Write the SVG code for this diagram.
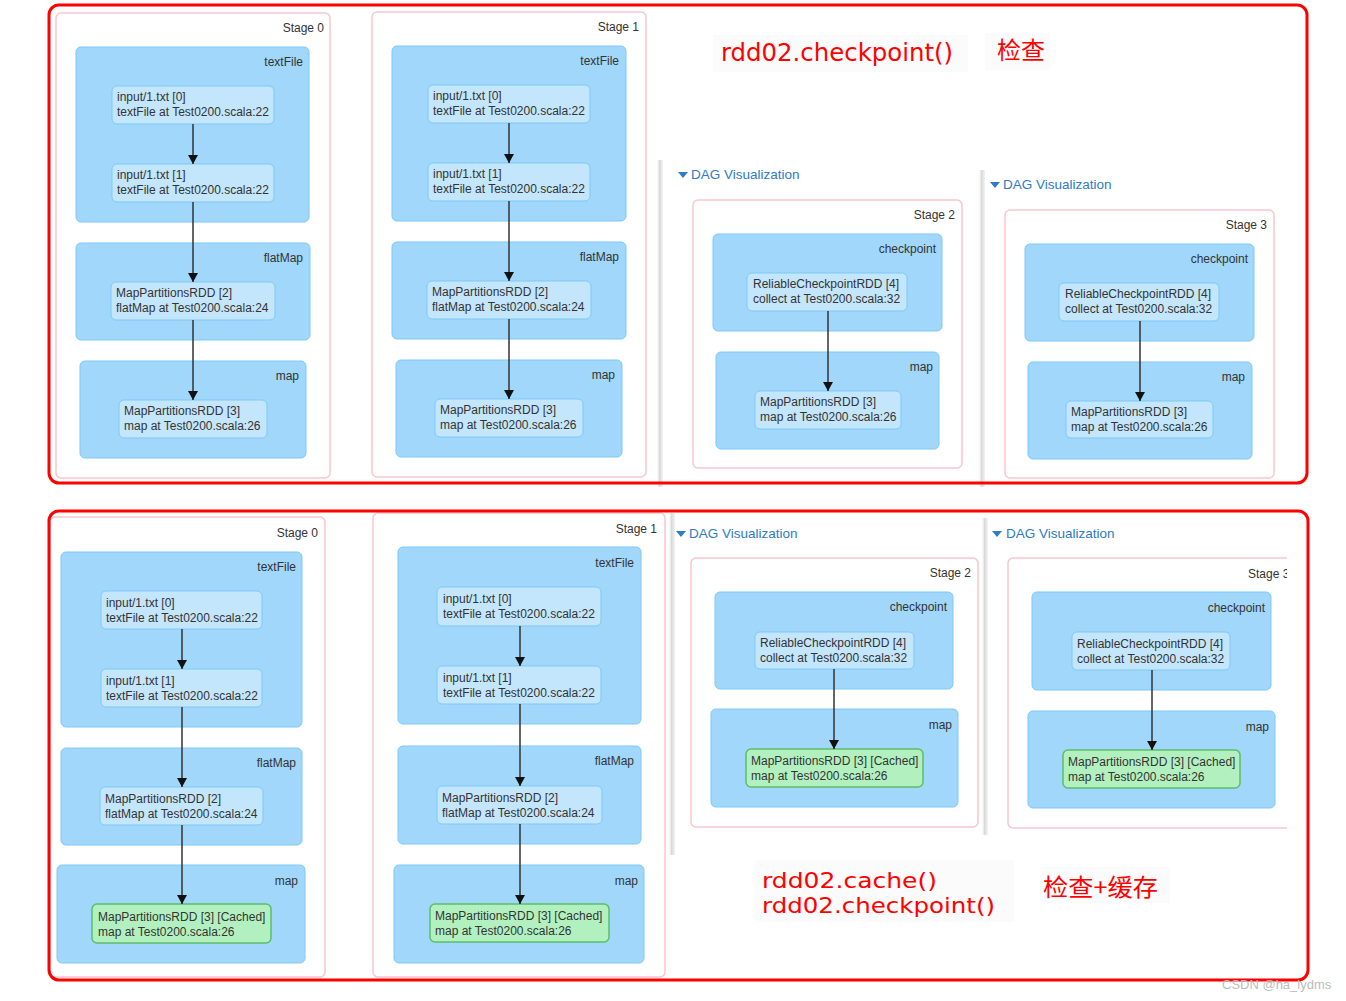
<svg xmlns="http://www.w3.org/2000/svg" width="1346" height="1001" viewBox="0 0 1346 1001">
<style>
.stage{fill:#fff;stroke:#F8C6D0;stroke-width:1.5}
.cl{fill:#A0D7FA;stroke:#7DC9F7;stroke-width:1}
.nd{fill:#C3E6FC;stroke:#7DC9F7;stroke-width:1}
.cached{fill:#B2F1BF;stroke:#5BBF69;stroke-width:1.5}
.lbl{font-family:"Liberation Sans",Arial,sans-serif;font-size:12px;fill:#333;text-anchor:end}
.nt{font-family:"Liberation Sans",Arial,sans-serif;font-size:12px;fill:#333}
.dag{font-family:"Liberation Sans",Arial,sans-serif;font-size:13.5px;fill:#2F7BC4}
.tri{fill:#2F7BC4}
.edge{stroke:#333;stroke-width:1.5;fill:none;marker-end:url(#ah)}
.frame{fill:none;stroke:#FF0000;stroke-width:3}
.red{font-family:"DejaVu Sans","Liberation Sans",sans-serif;font-size:22px;fill:#FF0000}
.redcjk{font-family:"Noto Sans CJK SC",sans-serif;font-size:24px;fill:#FF0000}
.shadow{fill:url(#sh)}
.faint{fill:#FBFBFB}
</style>
<defs>
<marker id="ah" markerUnits="userSpaceOnUse" markerWidth="10" markerHeight="10" refX="9" refY="5" orient="auto">
<path d="M0,0 L9,5 L0,10 z" fill="#111"/>
</marker>
<linearGradient id="sh" x1="0" y1="0" x2="1" y2="0">
<stop offset="0" stop-color="#ffffff" stop-opacity="0"/>
<stop offset="0.5" stop-color="#d9d9d9"/>
<stop offset="1" stop-color="#f4f4f4"/>
</linearGradient>
<clipPath id="clip3"><rect x="0" y="0" width="1287" height="1001"/></clipPath>
</defs>
<rect x="0" y="0" width="1346" height="1001" fill="#fff"/>

<!-- faint backgrounds behind annotations -->
<rect class="faint" x="713" y="35" width="255" height="37"/>
<rect class="faint" x="985" y="33" width="65" height="37"/>
<rect class="faint" x="755" y="860" width="259" height="62"/>
<rect class="faint" x="1040" y="867" width="130" height="36"/>

<!-- panel shadows -->
<rect class="shadow" x="656" y="160" width="7" height="327"/>
<rect class="shadow" x="978" y="170" width="7" height="317"/>
<rect class="shadow" x="668" y="513" width="7" height="342"/>
<rect class="shadow" x="981" y="518" width="7" height="317"/>

<!-- ===== TOP: Stage 0 ===== -->
<g id="top-stage0">
<rect class="stage" x="56" y="13" width="274" height="465" rx="5"/>
<text class="lbl" x="324" y="32">Stage 0</text>
</g>
<g id="top-s0-textFile"><rect class="cl" x="76" y="47" width="233" height="175" rx="5"/><text class="lbl" x="303" y="66">textFile</text></g>
<g id="top-s0-flatMap"><rect class="cl" x="76" y="243" width="234" height="97" rx="5"/><text class="lbl" x="303" y="262">flatMap</text></g>
<g id="top-s0-map"><rect class="cl" x="80" y="361" width="226" height="97" rx="5"/><text class="lbl" x="299" y="380">map</text></g>
<g id="top-s0-n0"><rect class="nd" x="112" y="86" width="162" height="38" rx="5"/><text class="nt" x="117" y="101">input/1.txt [0]</text><text class="nt" x="117" y="115.5">textFile at Test0200.scala:22</text></g>
<g id="top-s0-n1"><rect class="nd" x="112" y="164" width="162" height="38" rx="5"/><text class="nt" x="117" y="179">input/1.txt [1]</text><text class="nt" x="117" y="193.5">textFile at Test0200.scala:22</text></g>
<g id="top-s0-n2"><rect class="nd" x="111" y="282" width="164" height="38" rx="5"/><text class="nt" x="116" y="297">MapPartitionsRDD [2]</text><text class="nt" x="116" y="311.5">flatMap at Test0200.scala:24</text></g>
<g id="top-s0-n3"><rect class="nd" x="119" y="400" width="148" height="38" rx="5"/><text class="nt" x="124" y="415">MapPartitionsRDD [3]</text><text class="nt" x="124" y="429.5">map at Test0200.scala:26</text></g>

<!-- ===== TOP: Stage 1 ===== -->
<g id="top-stage1">
<rect class="stage" x="372" y="12" width="274" height="465" rx="5"/>
<text class="lbl" x="639" y="31">Stage 1</text>
</g>
<g id="top-s1-textFile"><rect class="cl" x="392" y="46" width="234" height="175" rx="5"/><text class="lbl" x="619" y="65">textFile</text></g>
<g id="top-s1-flatMap"><rect class="cl" x="392" y="242" width="234" height="97" rx="5"/><text class="lbl" x="619" y="261">flatMap</text></g>
<g id="top-s1-map"><rect class="cl" x="396" y="360" width="226" height="97" rx="5"/><text class="lbl" x="615" y="379">map</text></g>
<g id="top-s1-n0"><rect class="nd" x="428" y="85" width="162" height="38" rx="5"/><text class="nt" x="433" y="100">input/1.txt [0]</text><text class="nt" x="433" y="114.5">textFile at Test0200.scala:22</text></g>
<g id="top-s1-n1"><rect class="nd" x="428" y="163" width="162" height="38" rx="5"/><text class="nt" x="433" y="178">input/1.txt [1]</text><text class="nt" x="433" y="192.5">textFile at Test0200.scala:22</text></g>
<g id="top-s1-n2"><rect class="nd" x="427" y="281" width="164" height="38" rx="5"/><text class="nt" x="432" y="296">MapPartitionsRDD [2]</text><text class="nt" x="432" y="310.5">flatMap at Test0200.scala:24</text></g>
<g id="top-s1-n3"><rect class="nd" x="435" y="399" width="148" height="38" rx="5"/><text class="nt" x="440" y="414">MapPartitionsRDD [3]</text><text class="nt" x="440" y="428.5">map at Test0200.scala:26</text></g>

<!-- ===== TOP: Stage 2 ===== -->
<g id="top-dag2"><path class="tri" d="M678,172 L688,172 L683,178 z"/><text class="dag" x="691" y="179">DAG Visualization</text></g>
<g id="top-stage2">
<rect class="stage" x="693" y="200" width="269" height="268" rx="5"/>
<text class="lbl" x="955" y="219">Stage 2</text>
</g>
<g id="top-s2-checkpoint"><rect class="cl" x="713" y="234" width="229" height="97" rx="5"/><text class="lbl" x="936" y="253">checkpoint</text></g>
<g id="top-s2-map"><rect class="cl" x="716" y="352" width="223" height="97" rx="5"/><text class="lbl" x="933" y="371">map</text></g>
<g id="top-s2-n4"><rect class="nd" x="747" y="273" width="160" height="38" rx="5"/><text class="nt" x="753" y="288">ReliableCheckpointRDD [4]</text><text class="nt" x="753" y="302.5">collect at Test0200.scala:32</text></g>
<g id="top-s2-n3"><rect class="nd" x="755" y="391" width="146" height="38" rx="5"/><text class="nt" x="760" y="406">MapPartitionsRDD [3]</text><text class="nt" x="760" y="420.5">map at Test0200.scala:26</text></g>

<!-- ===== TOP: Stage 3 ===== -->
<g id="top-dag3"><path class="tri" d="M990,182 L1000,182 L995,188 z"/><text class="dag" x="1003" y="189">DAG Visualization</text></g>
<g id="top-stage3">
<rect class="stage" x="1005" y="210" width="269" height="268" rx="5"/>
<text class="lbl" x="1267" y="229">Stage 3</text>
</g>
<g id="top-s3-checkpoint"><rect class="cl" x="1025" y="244" width="229" height="97" rx="5"/><text class="lbl" x="1248" y="263">checkpoint</text></g>
<g id="top-s3-map"><rect class="cl" x="1028" y="362" width="224" height="97" rx="5"/><text class="lbl" x="1245" y="381">map</text></g>
<g id="top-s3-n4"><rect class="nd" x="1059" y="283" width="160" height="38" rx="5"/><text class="nt" x="1065" y="298">ReliableCheckpointRDD [4]</text><text class="nt" x="1065" y="312.5">collect at Test0200.scala:32</text></g>
<g id="top-s3-n3"><rect class="nd" x="1066" y="401" width="147" height="37" rx="5"/><text class="nt" x="1071" y="416">MapPartitionsRDD [3]</text><text class="nt" x="1071" y="430.5">map at Test0200.scala:26</text></g>

<!-- ===== BOTTOM: Stage 0 ===== -->
<g id="bot-stage0">
<rect class="stage" x="50" y="517" width="275" height="460" rx="5"/>
<text class="lbl" x="318" y="537">Stage 0</text>
</g>
<g id="bot-s0-textFile"><rect class="cl" x="61" y="552" width="241" height="175" rx="5"/><text class="lbl" x="296" y="571">textFile</text></g>
<g id="bot-s0-flatMap"><rect class="cl" x="61" y="748" width="241" height="97" rx="5"/><text class="lbl" x="296" y="767">flatMap</text></g>
<g id="bot-s0-map"><rect class="cl" x="57" y="865" width="248" height="98" rx="5"/><text class="lbl" x="298" y="885">map</text></g>
<g id="bot-s0-n0"><rect class="nd" x="101" y="591" width="161" height="38" rx="5"/><text class="nt" x="106" y="607">input/1.txt [0]</text><text class="nt" x="106" y="621.5">textFile at Test0200.scala:22</text></g>
<g id="bot-s0-n1"><rect class="nd" x="101" y="669" width="161" height="38" rx="5"/><text class="nt" x="106" y="685">input/1.txt [1]</text><text class="nt" x="106" y="699.5">textFile at Test0200.scala:22</text></g>
<g id="bot-s0-n2"><rect class="nd" x="100" y="787" width="163" height="38" rx="5"/><text class="nt" x="105" y="803">MapPartitionsRDD [2]</text><text class="nt" x="105" y="817.5">flatMap at Test0200.scala:24</text></g>
<g id="bot-s0-n3"><rect class="cached" x="92" y="904" width="179" height="39" rx="5"/><text class="nt" x="98" y="921">MapPartitionsRDD [3] [Cached]</text><text class="nt" x="98" y="935.5">map at Test0200.scala:26</text></g>

<!-- ===== BOTTOM: Stage 1 ===== -->
<g id="bot-stage1">
<rect class="stage" x="373" y="513" width="292" height="464" rx="5"/>
<text class="lbl" x="657" y="533">Stage 1</text>
</g>
<g id="bot-s1-textFile"><rect class="cl" x="398" y="547" width="243" height="177" rx="5"/><text class="lbl" x="634" y="567">textFile</text></g>
<g id="bot-s1-flatMap"><rect class="cl" x="398" y="746" width="243" height="98" rx="5"/><text class="lbl" x="634" y="765">flatMap</text></g>
<g id="bot-s1-map"><rect class="cl" x="394" y="865" width="250" height="98" rx="5"/><text class="lbl" x="638" y="885">map</text></g>
<g id="bot-s1-n0"><rect class="nd" x="437" y="587" width="164" height="39" rx="5"/><text class="nt" x="443" y="603">input/1.txt [0]</text><text class="nt" x="443" y="617.5">textFile at Test0200.scala:22</text></g>
<g id="bot-s1-n1"><rect class="nd" x="437" y="666" width="164" height="38" rx="5"/><text class="nt" x="443" y="682">input/1.txt [1]</text><text class="nt" x="443" y="696.5">textFile at Test0200.scala:22</text></g>
<g id="bot-s1-n2"><rect class="nd" x="437" y="786" width="165" height="38" rx="5"/><text class="nt" x="442" y="802">MapPartitionsRDD [2]</text><text class="nt" x="442" y="816.5">flatMap at Test0200.scala:24</text></g>
<g id="bot-s1-n3"><rect class="cached" x="430" y="904" width="179" height="38" rx="5"/><text class="nt" x="435" y="920">MapPartitionsRDD [3] [Cached]</text><text class="nt" x="435" y="934.5">map at Test0200.scala:26</text></g>

<!-- ===== BOTTOM: Stage 2 ===== -->
<g id="bot-dag2"><path class="tri" d="M676,531 L686,531 L681,537 z"/><text class="dag" x="689" y="538">DAG Visualization</text></g>
<g id="bot-stage2">
<rect class="stage" x="691" y="558" width="287" height="269" rx="5"/>
<text class="lbl" x="971" y="577">Stage 2</text>
</g>
<g id="bot-s2-checkpoint"><rect class="cl" x="715" y="592" width="238" height="97" rx="5"/><text class="lbl" x="947" y="611">checkpoint</text></g>
<g id="bot-s2-map"><rect class="cl" x="711" y="709" width="247" height="98" rx="5"/><text class="lbl" x="952" y="729">map</text></g>
<g id="bot-s2-n4"><rect class="nd" x="755" y="632" width="159" height="37" rx="5"/><text class="nt" x="760" y="647">ReliableCheckpointRDD [4]</text><text class="nt" x="760" y="661.5">collect at Test0200.scala:32</text></g>
<g id="bot-s2-n3"><rect class="cached" x="746" y="749" width="177" height="38" rx="5"/><text class="nt" x="751" y="765">MapPartitionsRDD [3] [Cached]</text><text class="nt" x="751" y="779.5">map at Test0200.scala:26</text></g>

<!-- ===== BOTTOM: Stage 3 (cut at right) ===== -->
<g id="bot-dag3"><path class="tri" d="M992,531 L1002,531 L997,537 z"/><text class="dag" x="1006" y="538">DAG Visualization</text></g>
<g id="bot-stage3" clip-path="url(#clip3)">
<rect class="stage" x="1008" y="558" width="300" height="270" rx="5"/>
<text class="nt" x="1248" y="578">Stage 3</text>
</g>
<g id="bot-s3-checkpoint"><rect class="cl" x="1032" y="592" width="239" height="98" rx="5"/><text class="lbl" x="1265" y="612">checkpoint</text></g>
<g id="bot-s3-map"><rect class="cl" x="1028" y="711" width="247" height="97" rx="5"/><text class="lbl" x="1269" y="731">map</text></g>
<g id="bot-s3-n4"><rect class="nd" x="1072" y="632" width="158" height="38" rx="5"/><text class="nt" x="1077" y="648">ReliableCheckpointRDD [4]</text><text class="nt" x="1077" y="662.5">collect at Test0200.scala:32</text></g>
<g id="bot-s3-n3"><rect class="cached" x="1063" y="750" width="177" height="38" rx="5"/><text class="nt" x="1068" y="766">MapPartitionsRDD [3] [Cached]</text><text class="nt" x="1068" y="780.5">map at Test0200.scala:26</text></g>

<!-- ===== Connectors ===== -->
<g id="connectors">
<line class="edge" x1="193" y1="124" x2="193" y2="164"/>
<line class="edge" x1="193" y1="202" x2="193" y2="282"/>
<line class="edge" x1="193" y1="320" x2="193" y2="400"/>
<line class="edge" x1="509" y1="123" x2="509" y2="163"/>
<line class="edge" x1="509" y1="201" x2="509" y2="281"/>
<line class="edge" x1="509" y1="319" x2="509" y2="399"/>
<line class="edge" x1="828" y1="311" x2="828" y2="391"/>
<line class="edge" x1="1140" y1="321" x2="1140" y2="401"/>
<line class="edge" x1="182" y1="629" x2="182" y2="669"/>
<line class="edge" x1="182" y1="707" x2="182" y2="787"/>
<line class="edge" x1="182" y1="825" x2="182" y2="904"/>
<line class="edge" x1="520" y1="626" x2="520" y2="666"/>
<line class="edge" x1="520" y1="704" x2="520" y2="786"/>
<line class="edge" x1="520" y1="824" x2="520" y2="904"/>
<line class="edge" x1="834" y1="669" x2="834" y2="749"/>
<line class="edge" x1="1152" y1="670" x2="1152" y2="750"/>
</g>

<!-- red frames -->
<rect class="frame" x="49" y="5" width="1258" height="478" rx="10"/>
<rect class="frame" x="49" y="511" width="1259" height="469" rx="10"/>

<!-- annotations -->
<g id="note-top">
<text class="red" x="721" y="61" textLength="232" lengthAdjust="spacingAndGlyphs" style="font-size:24px">rdd02.checkpoint()</text>
<text class="redcjk" x="997" y="59">检查</text>
</g>
<g id="note-bottom">
<text class="red" x="762" y="888" textLength="175" lengthAdjust="spacingAndGlyphs">rdd02.cache()</text>
<text class="red" x="762" y="913" textLength="233" lengthAdjust="spacingAndGlyphs">rdd02.checkpoint()</text>
<text class="redcjk" x="1043" y="896" textLength="115" lengthAdjust="spacingAndGlyphs">检查+缓存</text>
</g>
<text x="1222" y="989" style="font-family:'Liberation Sans',Arial,sans-serif;font-size:13px;fill:#bdbdbd">CSDN @ha_lydms</text>
</svg>
